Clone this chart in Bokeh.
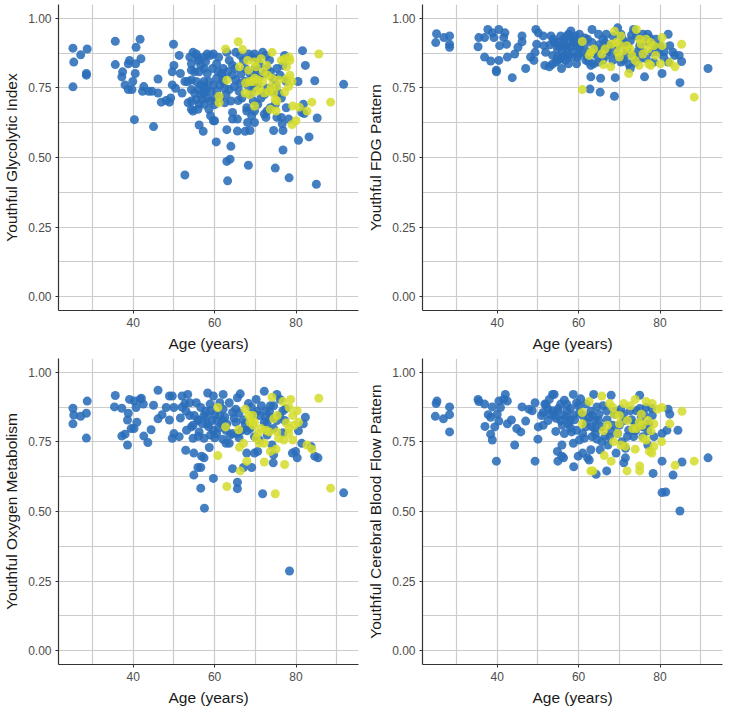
from bokeh.plotting import figure
from bokeh.layouts import gridplot
from bokeh.models import Range1d, FixedTicker, NumeralTickFormatter, ColumnDataSource
from bokeh.embed import file_html
from bokeh.resources import INLINE

X_TICKS = [40, 60, 80]
X_MINOR = [30, 50, 70, 90]
Y_TICKS = [0.0, 0.25, 0.5, 0.75, 1.0]
Y_MINOR = [0.125, 0.375, 0.625, 0.875]
X_LABEL = "Age (years)"
Y_LABELS = ["Youthful Glycolytic Index", "Youthful FDG Pattern",
            "Youthful Oxygen Metabolism", "Youthful Cerebral Blood Flow Pattern"]

# ---------- Panel 1: Youthful Glycolytic Index (age, value) ----------
gly_blue = [
    (25.2, 0.893), (25.4, 0.843), (27.1, 0.869), (28.7, 0.890), (28.5, 0.802), (28.5, 0.796), (25.2, 0.754),
    (35.6, 0.918), (35.6, 0.834), (37.4, 0.808), (37.2, 0.790), (38.0, 0.761), (38.8, 0.837), (39.1, 0.849),
    (40.7, 0.896), (41.7, 0.925), (41.9, 0.855), (40.6, 0.837), (40.5, 0.802), (39.9, 0.773), (38.8, 0.744),
    (39.7, 0.744), (42.6, 0.755), (42.3, 0.738), (43.8, 0.738), (44.6, 0.738), (46.1, 0.782), (46.1, 0.732),
    (46.9, 0.699), (48.1, 0.705), (48.9, 0.699), (49.2, 0.714), (49.6, 0.761), (49.9, 0.907), (50.0, 0.831),
    (49.6, 0.808), (50.4, 0.749), (51.3, 0.867), (51.6, 0.802), (52.0, 0.732), (52.7, 0.773), (53.4, 0.773),
    (53.5, 0.697), (54.3, 0.703), (54.3, 0.673), (52.7, 0.437), (40.3, 0.636), (45.0, 0.611),
    (56.2, 0.617), (57.2, 0.594), (60.4, 0.556), (60.0, 0.632), (63.0, 0.600), (64.0, 0.540), (65.6, 0.595),
    (64.4, 0.662), (64.4, 0.638), (65.6, 0.638), (65.8, 0.705), (64.0, 0.703), (63.0, 0.486), (63.8, 0.494),
    (63.2, 0.416), (68.3, 0.472), (67.5, 0.594), (68.7, 0.597), (68.1, 0.626), (67.9, 0.667), (67.9, 0.679),
    (69.1, 0.650), (69.8, 0.626), (69.8, 0.667), (69.5, 0.703), (68.7, 0.726), (70.6, 0.691), (69.8, 0.749),
    (72.2, 0.656), (72.6, 0.644), (72.9, 0.667), (73.7, 0.679), (74.5, 0.597), (75.3, 0.644), (74.9, 0.691),
    (74.9, 0.462), (76.8, 0.527), (76.8, 0.597), (76.6, 0.621), (76.4, 0.644), (78.2, 0.638), (78.3, 0.427),
    (80.6, 0.562), (81.4, 0.662), (81.8, 0.691), (82.0, 0.658), (83.2, 0.574), (85.2, 0.642), (85.0, 0.404),
    (84.6, 0.776), (80.5, 0.773), (82.3, 0.831), (81.6, 0.884), (91.7, 0.763), (63.0, 0.878),
    (53.9, 0.861), (54.3, 0.837), (54.7, 0.878), (55.5, 0.872), (55.9, 0.849), (56.6, 0.831), (57.4, 0.861),
    (58.2, 0.872), (59.0, 0.867), (59.7, 0.872), (57.4, 0.820), (58.2, 0.802), (56.2, 0.808), (55.1, 0.808),
    (54.3, 0.814), (54.3, 0.744), (55.1, 0.732), (55.9, 0.744), (56.6, 0.726), (57.4, 0.732), (58.2, 0.714),
    (59.0, 0.703), (55.5, 0.708), (56.2, 0.691), (57.4, 0.691), (58.6, 0.673), (55.9, 0.673), (54.7, 0.667),
    (57.4, 0.773), (58.6, 0.773), (59.7, 0.761), (59.0, 0.738), (60.5, 0.785), (61.3, 0.761), (54.3, 0.779),
    (55.5, 0.773), (56.6, 0.761), (57.4, 0.755), (60.5, 0.837), (60.9, 0.808), (61.7, 0.802), (62.1, 0.773),
    (62.5, 0.749), (62.8, 0.726), (61.3, 0.714), (62.5, 0.697), (60.1, 0.714), (60.5, 0.738), (59.0, 0.650),
    (59.7, 0.632),
    (63.6, 0.849), (64.4, 0.831), (65.2, 0.878), (66.3, 0.867), (67.1, 0.849), (68.3, 0.872), (69.1, 0.861),
    (69.8, 0.872), (70.6, 0.855), (71.8, 0.878), (72.6, 0.867), (62.1, 0.820), (63.2, 0.808), (64.4, 0.796),
    (65.2, 0.779), (66.3, 0.767), (67.5, 0.773), (64.8, 0.755), (66.0, 0.738), (63.6, 0.744), (66.7, 0.714),
    (68.7, 0.802), (69.8, 0.808), (71.0, 0.790), (72.2, 0.802), (72.9, 0.820), (73.7, 0.808), (74.5, 0.785),
    (75.3, 0.820), (76.1, 0.796), (76.8, 0.831), (77.2, 0.867), (77.6, 0.773), (72.9, 0.749), (74.1, 0.738),
    (75.7, 0.732), (76.4, 0.714), (77.6, 0.679), (72.2, 0.726), (71.4, 0.714), (70.6, 0.761), (68.3, 0.755),
    (56.0, 0.860), (57.8, 0.845), (59.5, 0.820), (61.0, 0.860), (62.0, 0.790), (65.0, 0.820), (66.5, 0.800),
    (67.5, 0.820), (69.0, 0.780), (70.0, 0.820), (71.0, 0.835), (73.5, 0.850), (75.0, 0.760), (58.0, 0.745),
    (60.0, 0.690), (57.0, 0.710),
]
gly_yellow = [
    (62.7, 0.890), (65.8, 0.916), (66.9, 0.888), (66.1, 0.826), (68.1, 0.849), (68.4, 0.814), (69.8, 0.843),
    (70.2, 0.826), (71.4, 0.855), (72.8, 0.831), (74.1, 0.878), (72.0, 0.808), (69.8, 0.785), (68.7, 0.773),
    (69.5, 0.773), (70.6, 0.779), (71.8, 0.773), (73.0, 0.796), (74.1, 0.785), (75.7, 0.779), (75.3, 0.755),
    (71.0, 0.749), (70.3, 0.738), (72.2, 0.732), (73.4, 0.738), (74.5, 0.732), (73.9, 0.755), (67.5, 0.732),
    (68.7, 0.726), (67.6, 0.768), (63.0, 0.778), (61.1, 0.720), (61.1, 0.697), (69.8, 0.685), (73.7, 0.673),
    (74.9, 0.708), (75.3, 0.703), (75.1, 0.667), (76.4, 0.849), (77.2, 0.855), (78.3, 0.861), (78.5, 0.849),
    (77.7, 0.826), (77.5, 0.782), (78.5, 0.796), (79.0, 0.773), (78.2, 0.755), (77.2, 0.735), (79.2, 0.685),
    (80.8, 0.681), (82.7, 0.667), (80.0, 0.632), (79.0, 0.618), (83.9, 0.699), (88.5, 0.699), (85.6, 0.872),
]

# ---------- Panel 2: Youthful FDG Pattern ----------
fdg_blue = [
    (25.1, 0.945), (24.9, 0.913), (26.9, 0.931), (28.3, 0.937), (28.3, 0.907), (28.3, 0.896),
    (35.5, 0.931), (35.3, 0.898), (36.9, 0.931), (37.7, 0.960), (38.8, 0.948), (39.2, 0.931), (40.4, 0.960),
    (41.9, 0.948), (41.6, 0.931), (40.6, 0.902), (42.3, 0.907), (36.9, 0.861), (38.4, 0.847), (40.4, 0.849),
    (39.8, 0.814), (39.8, 0.808), (42.5, 0.861), (43.7, 0.787), (44.3, 0.872), (45.1, 0.896), (46.1, 0.937),
    (46.1, 0.916), (47.0, 0.820), (48.2, 0.861), (49.0, 0.849), (49.3, 0.878), (49.7, 0.907), (49.5, 0.960),
    (50.1, 0.948), (51.3, 0.937), (51.5, 0.902), (51.7, 0.831), (52.8, 0.826), (51.9, 0.878), (53.2, 0.937),
    (54.0, 0.913), (54.8, 0.890), (55.6, 0.937), (56.0, 0.878), (55.6, 0.855), (55.8, 0.820), (54.8, 0.861),
    (56.7, 0.902), (57.5, 0.943), (58.1, 0.955), (57.9, 0.913), (57.5, 0.867), (57.5, 0.837), (58.7, 0.878),
    (59.1, 0.937), (59.5, 0.902), (60.2, 0.943), (60.6, 0.919), (61.0, 0.878), (61.8, 0.849), (62.6, 0.878),
    (63.0, 0.831), (63.7, 0.837), (63.3, 0.913), (63.3, 0.960), (63.0, 0.790), (62.8, 0.746), (65.3, 0.735),
    (65.4, 0.785), (64.9, 0.943), (66.5, 0.913), (66.8, 0.943), (68.0, 0.878), (68.4, 0.849), (68.8, 0.720),
    (69.0, 0.787), (69.6, 0.966), (70.4, 0.943), (71.1, 0.913), (71.5, 0.867), (72.3, 0.837), (73.5, 0.960),
    (74.2, 0.937), (75.0, 0.902), (75.8, 0.943), (76.2, 0.790), (77.0, 0.943), (77.4, 0.913), (78.1, 0.878),
    (78.9, 0.902), (79.7, 0.878), (80.5, 0.802), (80.9, 0.861), (82.0, 0.943), (82.4, 0.902), (83.2, 0.878),
    (83.6, 0.867), (84.7, 0.867), (85.3, 0.845), (84.9, 0.769), (91.8, 0.820), (69.6, 0.867), (70.4, 0.843),
    (64.9, 0.843), (66.8, 0.867), (72.7, 0.820), (73.5, 0.867), (75.0, 0.855), (76.6, 0.855), (78.5, 0.843),
    (82.0, 0.843), (53.6, 0.867), (54.4, 0.843), (56.3, 0.925), (56.7, 0.849), (58.3, 0.861), (58.7, 0.925),
    (59.8, 0.861), (60.2, 0.890), (61.4, 0.902), (62.2, 0.925), (64.1, 0.890), (64.5, 0.867), (65.7, 0.890),
    (67.6, 0.902), (71.9, 0.890), (72.7, 0.919), (75.8, 0.878), (54.8, 0.913), (57.1, 0.890), (59.5, 0.837),
    (53.0, 0.905), (53.8, 0.925), (55.2, 0.900), (56.0, 0.908), (57.0, 0.935), (58.0, 0.897), (59.0, 0.915),
    (60.5, 0.905), (61.5, 0.930), (62.0, 0.865), (63.5, 0.875), (65.0, 0.905), (66.0, 0.925), (67.0, 0.885),
    (68.5, 0.935), (69.5, 0.900), (70.8, 0.925), (72.0, 0.905), (73.0, 0.940), (74.5, 0.880), (76.0, 0.920),
    (77.5, 0.930), (79.0, 0.925), (80.0, 0.900), (81.0, 0.880), (56.5, 0.865), (60.0, 0.870), (62.5, 0.845),
    (66.0, 0.850), (71.0, 0.850), (73.8, 0.840), (53.5, 0.835), (55.0, 0.850),
]
fdg_yellow = [
    (60.9, 0.917), (60.9, 0.744), (62.6, 0.867), (63.0, 0.878), (63.7, 0.890), (66.1, 0.834), (65.7, 0.872),
    (66.5, 0.890), (67.9, 0.826), (68.8, 0.954), (69.2, 0.913), (70.4, 0.937), (70.0, 0.907), (69.6, 0.878),
    (70.0, 0.861), (71.1, 0.884), (71.9, 0.902), (72.3, 0.802), (72.7, 0.890), (73.1, 0.867), (73.9, 0.849),
    (74.2, 0.960), (74.9, 0.831), (75.0, 0.925), (75.4, 0.907), (75.8, 0.872), (76.6, 0.925), (77.0, 0.890),
    (77.2, 0.837), (77.7, 0.831), (77.7, 0.913), (78.5, 0.902), (78.9, 0.867), (80.1, 0.837), (80.5, 0.931),
    (80.5, 0.902), (82.4, 0.841), (83.7, 0.826), (85.3, 0.907), (88.4, 0.717), (68.0, 0.907),
]

# ---------- Panel 3: Youthful Oxygen Metabolism ----------
oxy_blue = [
    (25.2, 0.871), (25.4, 0.847), (25.2, 0.815), (27.1, 0.842), (28.5, 0.853), (28.7, 0.897), (28.5, 0.764),
    (35.6, 0.917), (35.4, 0.876), (37.2, 0.871), (37.2, 0.771), (38.0, 0.778), (38.6, 0.739), (38.8, 0.853),
    (38.6, 0.829), (39.1, 0.903), (39.5, 0.798), (40.2, 0.798), (40.3, 0.897), (40.7, 0.874), (40.9, 0.821),
    (41.7, 0.903), (42.0, 0.907), (42.5, 0.886), (42.6, 0.771), (43.6, 0.748), (44.4, 0.794), (45.0, 0.882),
    (46.1, 0.936), (46.1, 0.833), (47.1, 0.848), (48.1, 0.874), (48.9, 0.915), (49.6, 0.915), (48.9, 0.829),
    (49.6, 0.763), (50.0, 0.780), (50.0, 0.874), (51.3, 0.769), (51.6, 0.836), (52.0, 0.915), (52.7, 0.888),
    (52.9, 0.720), (53.4, 0.921), (53.9, 0.845), (54.3, 0.804), (54.7, 0.763), (54.9, 0.710), (54.9, 0.631),
    (55.9, 0.658), (56.6, 0.658), (56.6, 0.584), (57.5, 0.512), (56.8, 0.699), (57.4, 0.693), (58.7, 0.730),
    (59.7, 0.619), (58.3, 0.926), (59.7, 0.915), (55.5, 0.891), (56.6, 0.874), (57.4, 0.845), (58.2, 0.815),
    (59.0, 0.862), (55.9, 0.827), (54.7, 0.810), (56.2, 0.786), (57.4, 0.763), (59.0, 0.775), (59.7, 0.792),
    (60.5, 0.827), (60.5, 0.780), (61.3, 0.845), (62.1, 0.868), (61.7, 0.815), (62.8, 0.792), (63.6, 0.891),
    (64.4, 0.856), (65.2, 0.821), (65.6, 0.909), (66.3, 0.923), (63.6, 0.745), (64.4, 0.654), (65.6, 0.605),
    (65.6, 0.582), (64.4, 0.780), (66.7, 0.792), (67.9, 0.710), (67.1, 0.658), (69.1, 0.658), (68.3, 0.888),
    (70.2, 0.903), (69.8, 0.710), (70.6, 0.716), (71.8, 0.564), (72.2, 0.932), (71.0, 0.845), (72.2, 0.821),
    (72.6, 0.862), (73.7, 0.880), (74.5, 0.798), (72.9, 0.775), (74.1, 0.739), (74.5, 0.704), (74.4, 0.675),
    (75.3, 0.921), (76.1, 0.903), (76.8, 0.862), (77.2, 0.827), (76.8, 0.783), (78.4, 0.286), (79.1, 0.710),
    (79.9, 0.716), (80.3, 0.693), (80.6, 0.790), (81.4, 0.745), (81.8, 0.815), (82.3, 0.839), (83.7, 0.734),
    (84.6, 0.699), (85.4, 0.693), (91.7, 0.567), (65.6, 0.780), (67.5, 0.815), (68.7, 0.798), (69.8, 0.850),
    (73.7, 0.839), (72.9, 0.815), (75.3, 0.827), (61.3, 0.891), (62.1, 0.827), (62.8, 0.745), (69.8, 0.769),
    (71.0, 0.757), (62.1, 0.921), (53.9, 0.891), (53.1, 0.792), (58.9, 0.886), (59.4, 0.827), (65.2, 0.868),
    (55.0, 0.845), (56.0, 0.830), (57.0, 0.815), (58.0, 0.840), (58.5, 0.805), (60.0, 0.850), (61.0, 0.800),
    (62.5, 0.840), (63.0, 0.815), (63.8, 0.775), (64.8, 0.835), (66.0, 0.855), (67.0, 0.830), (68.0, 0.790),
    (69.0, 0.875), (70.5, 0.860), (71.5, 0.880), (72.5, 0.840), (73.5, 0.860), (74.5, 0.880), (76.0, 0.845),
    (77.5, 0.870), (60.0, 0.765), (62.0, 0.760), (66.0, 0.765), (56.0, 0.770), (57.8, 0.860), (52.0, 0.875),
    (53.0, 0.860),
]
oxy_yellow = [
    (60.8, 0.874), (60.8, 0.701), (62.7, 0.804), (63.0, 0.590), (65.9, 0.794), (66.1, 0.731), (66.3, 0.646),
    (67.1, 0.745), (67.9, 0.681), (67.5, 0.868), (68.4, 0.845), (68.7, 0.821), (69.5, 0.810), (69.8, 0.821),
    (70.2, 0.763), (70.6, 0.780), (71.4, 0.798), (72.2, 0.745), (72.2, 0.678), (72.6, 0.792), (73.4, 0.786),
    (73.7, 0.716), (74.1, 0.911), (74.5, 0.833), (75.1, 0.724), (74.9, 0.564), (75.3, 0.786), (75.7, 0.763),
    (75.4, 0.845), (76.8, 0.895), (77.0, 0.757), (77.2, 0.669), (77.6, 0.818), (78.2, 0.780), (78.3, 0.874),
    (78.7, 0.903), (79.2, 0.845), (79.2, 0.757), (79.5, 0.810), (80.3, 0.862), (80.6, 0.821), (82.7, 0.739),
    (83.9, 0.724), (85.6, 0.907), (88.5, 0.584), (78.3, 0.798), (69.4, 0.845), (71.0, 0.745),
]

# ---------- Panel 4: Youthful Cerebral Blood Flow Pattern ----------
cbf_blue = [
    (25.2, 0.897), (25.0, 0.888), (24.8, 0.842), (26.8, 0.833), (28.3, 0.876), (28.3, 0.848), (28.3, 0.786),
    (35.3, 0.903), (35.5, 0.895), (36.9, 0.886), (37.0, 0.806), (37.8, 0.848), (38.4, 0.839), (38.4, 0.778),
    (38.8, 0.757), (38.8, 0.876), (39.4, 0.804), (39.8, 0.681), (40.0, 0.850), (40.4, 0.897), (40.8, 0.874),
    (40.4, 0.825), (42.0, 0.921), (41.6, 0.903), (42.5, 0.897), (42.5, 0.815), (43.5, 0.829), (44.3, 0.739),
    (44.8, 0.798), (45.8, 0.786), (46.1, 0.876), (47.0, 0.825), (47.8, 0.868), (48.6, 0.862), (49.3, 0.891),
    (49.3, 0.681), (50.0, 0.760), (50.1, 0.804), (50.9, 0.845), (51.3, 0.810), (51.7, 0.886), (52.5, 0.868),
    (52.8, 0.903), (53.6, 0.921), (54.0, 0.921), (54.0, 0.845), (54.4, 0.788), (54.8, 0.716), (54.9, 0.681),
    (55.9, 0.699), (56.3, 0.693), (55.9, 0.739), (56.5, 0.780), (55.6, 0.827), (57.1, 0.886), (57.5, 0.815),
    (58.3, 0.786), (58.7, 0.921), (58.7, 0.745), (58.8, 0.661), (59.5, 0.891), (59.9, 0.699), (60.2, 0.856),
    (61.0, 0.710), (61.4, 0.763), (61.8, 0.804), (62.2, 0.693), (62.6, 0.685), (63.0, 0.722), (63.7, 0.921),
    (63.3, 0.845), (64.1, 0.780), (64.3, 0.634), (64.9, 0.827), (65.3, 0.722), (66.9, 0.646), (67.2, 0.739),
    (66.9, 0.862), (68.0, 0.918), (68.4, 0.810), (69.2, 0.710), (69.6, 0.780), (70.4, 0.868), (70.7, 0.751),
    (71.1, 0.675), (71.5, 0.693), (71.5, 0.727), (72.7, 0.862), (73.5, 0.769), (73.9, 0.815), (75.0, 0.918),
    (75.4, 0.839), (75.8, 0.769), (76.6, 0.874), (77.2, 0.815), (77.0, 0.739), (78.1, 0.845), (78.3, 0.637),
    (78.5, 0.769), (80.5, 0.681), (80.5, 0.780), (80.5, 0.568), (81.4, 0.570), (81.7, 0.792), (82.0, 0.868),
    (82.4, 0.850), (83.2, 0.631), (84.4, 0.792), (84.9, 0.502), (85.4, 0.678), (91.8, 0.693), (55.6, 0.886),
    (54.8, 0.862), (56.3, 0.845), (57.9, 0.827), (59.5, 0.792), (60.2, 0.757), (57.1, 0.862), (58.7, 0.845),
    (63.3, 0.804), (64.5, 0.876), (65.7, 0.804), (67.6, 0.769), (68.8, 0.850), (71.1, 0.827), (72.3, 0.792),
    (74.2, 0.862), (75.8, 0.804), (63.3, 0.769), (65.7, 0.751), (53.6, 0.862), (52.5, 0.827), (51.3, 0.856),
    (61.8, 0.886), (62.6, 0.839), (64.1, 0.827),
    (53.0, 0.850), (54.5, 0.835), (55.0, 0.870), (56.0, 0.810), (57.0, 0.840), (58.0, 0.870), (59.0, 0.830),
    (60.0, 0.880), (61.0, 0.845), (62.0, 0.820), (63.0, 0.860), (64.0, 0.800), (65.0, 0.850), (66.0, 0.880),
    (67.0, 0.830), (68.0, 0.790), (69.0, 0.860), (70.0, 0.810), (71.0, 0.850), (72.0, 0.770), (73.0, 0.830),
    (74.0, 0.790), (75.0, 0.870), (76.0, 0.850), (77.0, 0.790), (78.0, 0.870), (64.5, 0.760), (66.5, 0.770),
    (58.0, 0.800), (61.0, 0.780), (52.0, 0.885), (56.5, 0.900), (60.5, 0.905),
]
cbf_yellow = [
    (60.9, 0.856), (60.9, 0.815), (62.6, 0.895), (63.0, 0.646), (63.5, 0.646), (65.7, 0.915), (66.1, 0.790),
    (66.3, 0.701), (67.1, 0.810), (67.6, 0.888), (68.0, 0.681), (68.4, 0.874), (68.6, 0.751), (68.8, 0.850),
    (69.6, 0.780), (70.0, 0.845), (70.0, 0.815), (71.1, 0.888), (71.5, 0.734), (71.9, 0.646), (72.0, 0.827),
    (72.7, 0.880), (73.3, 0.798), (73.9, 0.903), (73.9, 0.724), (74.2, 0.798), (74.9, 0.821), (75.0, 0.664),
    (75.0, 0.646), (75.4, 0.850), (75.6, 0.810), (75.8, 0.763), (76.6, 0.895), (77.0, 0.827), (77.4, 0.716),
    (77.8, 0.790), (78.0, 0.710), (78.1, 0.888), (78.5, 0.734), (78.5, 0.815), (79.3, 0.868), (80.4, 0.751),
    (80.5, 0.874), (82.4, 0.815), (83.7, 0.666), (85.4, 0.860), (88.4, 0.681), (70.4, 0.739), (76.6, 0.757),
]

BLUE = "#2A6DB8"
YELLOW = "#D4DC2C"
FONT = "Liberation Sans"


def src(pairs):
    return ColumnDataSource(data=dict(age=[a for a, _ in pairs], val=[v for _, v in pairs]))


def make_panel(blue, yellow, ylabel):
    p = figure(frame_width=300, frame_height=306, output_backend="svg", toolbar_location=None,
               x_range=Range1d(21.65, 95.35), y_range=Range1d(-0.05, 1.05),
               min_border_left=50, min_border_right=6, min_border_top=4, min_border_bottom=40)
    p.outline_line_color = None
    p.background_fill_color = "white"
    p.border_fill_color = "white"

    p.xaxis.ticker = FixedTicker(ticks=X_TICKS, minor_ticks=X_MINOR)
    p.yaxis.ticker = FixedTicker(ticks=Y_TICKS, minor_ticks=Y_MINOR)
    p.yaxis.formatter = NumeralTickFormatter(format="0.00")

    for g in (p.xgrid, p.ygrid):
        g.grid_line_color = "#CCCCCC"
        g.grid_line_width = 1.2
        g.minor_grid_line_color = "#CCCCCC"
        g.minor_grid_line_width = 1.2

    for ax in (p.xaxis, p.yaxis):
        ax.axis_line_color = "#333333"
        ax.axis_line_width = 1.2
        ax.major_tick_line_color = "#333333"
        ax.major_tick_in = 0
        ax.major_tick_out = 3
        ax.minor_tick_line_color = None
        ax.major_label_text_font = FONT
        ax.major_label_text_font_size = "12px"
        ax.major_label_text_color = "#4D4D4D"
        ax.major_label_standoff = 3
        ax.axis_label_text_font = FONT
        ax.axis_label_text_font_size = "15.5px"
        ax.axis_label_text_font_style = "normal"
        ax.axis_label_text_color = "#1A1A1A"
        ax.axis_label_standoff = 5

    p.xaxis.axis_label = X_LABEL
    p.yaxis.axis_label = ylabel

    p.scatter("age", "val", source=src(blue), size=9, fill_color=BLUE, line_color=None, fill_alpha=0.88)
    p.scatter("age", "val", source=src(yellow), size=9, fill_color=YELLOW, line_color=None, fill_alpha=0.85)
    return p


p1 = make_panel(gly_blue, gly_yellow, Y_LABELS[0])
p2 = make_panel(fdg_blue, fdg_yellow, Y_LABELS[1])
p3 = make_panel(oxy_blue, oxy_yellow, Y_LABELS[2])
p4 = make_panel(cbf_blue, cbf_yellow, Y_LABELS[3])

grid = gridplot([[p1, p2], [p3, p4]], toolbar_location=None)

open("out.html", "w").write(file_html(grid, INLINE))
